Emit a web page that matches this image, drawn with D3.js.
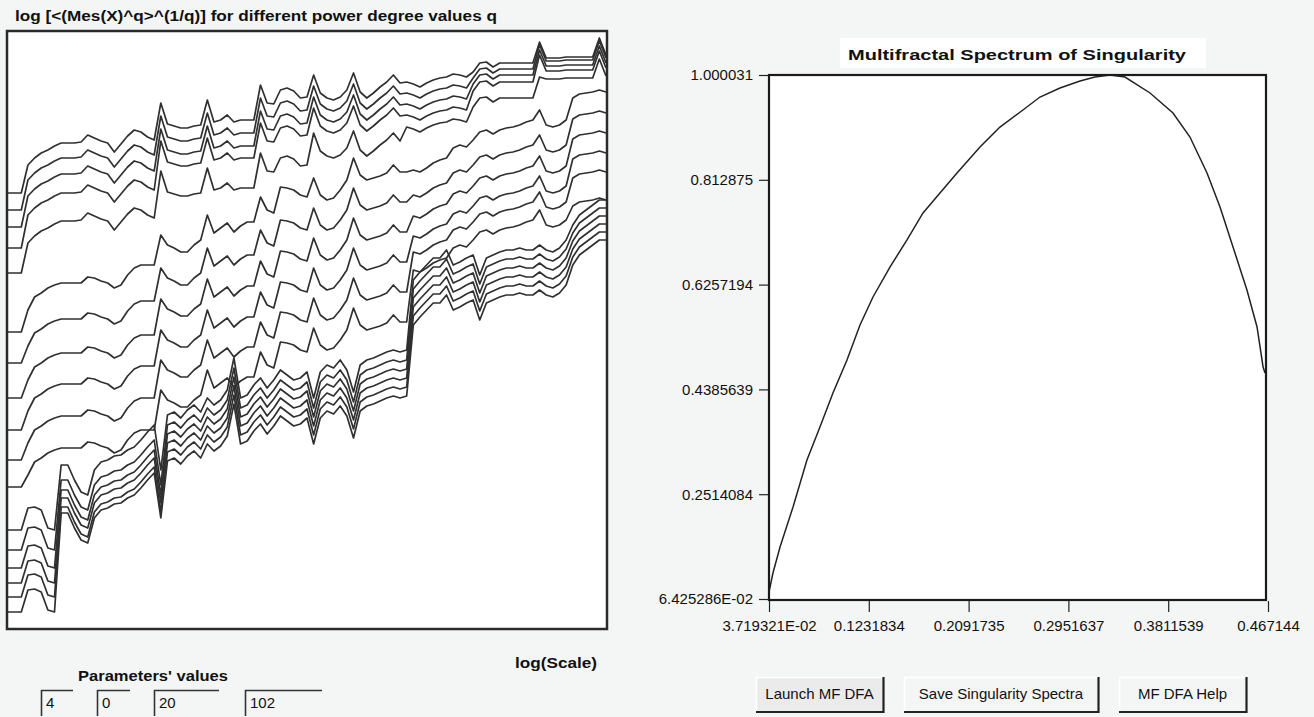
<!DOCTYPE html>
<meta charset="utf-8">
<body style="margin:0;background:#f4f6f6">
<style>
  .qline { fill: none; stroke: #303030; stroke-width: 1.7px; stroke-linejoin: round; }
  .spec { fill: none; stroke: #222; stroke-width: 1.5px; }
  .lbl { font-family: "Liberation Sans", Arial, sans-serif; fill: #111; }
  .axis text { font-family: "Liberation Sans", Arial, sans-serif; font-size: 15px; fill: #111; }
  .axis line { stroke: #222; stroke-width: 1.2px; }
  .axis path { display: none; }
</style>
<script src="https://d3js.org/d3.v7.min.js"></script>
<script>
// left chart: log measure vs log(scale), 91 scales, values in arbitrary log units
// group profiles, read off the top line of each bundle
var upperProfile = [4.36,4.36,4.36,4.64,4.71,4.76,4.79,4.83,4.86,4.86,4.86,4.87,4.94,4.91,4.88,4.86,4.77,4.85,4.93,4.99,
  4.97,4.92,4.89,5.26,5.05,5.03,5.01,5.01,5.03,5.04,5.29,5.07,5.09,5.14,5.07,5.09,5.09,5.09,5.44,5.26,
  5.25,5.39,5.41,5.38,5.31,5.32,5.54,5.36,5.31,5.29,5.32,5.39,5.56,5.37,5.31,5.36,5.42,5.47,5.54,5.46,
  5.47,5.45,5.42,5.46,5.49,5.51,5.52,5.55,5.54,5.52,5.57,5.66,5.67,5.62,5.66,5.66,5.66,5.66,5.66,5.66,
  5.87,5.71,5.71,5.71,5.72,5.72,5.72,5.72,5.72,5.91,5.74];
var middleProfile = [2.97,2.97,2.97,3.19,3.32,3.36,3.41,3.44,3.46,3.46,3.46,3.46,3.52,3.51,3.48,3.46,3.41,3.44,3.54,3.61,
  3.64,3.64,3.64,3.94,3.84,3.81,3.77,3.77,3.84,3.89,4.14,3.96,4.01,4.06,3.97,4.03,4.07,4.07,4.32,4.19,
  4.16,4.42,4.41,4.39,4.34,4.32,4.51,4.34,4.29,4.31,4.39,4.49,4.71,4.54,4.49,4.51,4.53,4.56,4.64,4.57,
  4.57,4.59,4.57,4.61,4.66,4.69,4.71,4.81,4.84,4.82,4.89,4.97,4.99,4.95,4.99,5.01,5.02,5.04,5.07,5.09,
  5.19,5.04,5.02,5.04,5.09,5.31,5.35,5.36,5.37,5.39,5.37];
var lowerProfile = [0.99,0.99,0.99,1.21,1.22,1.19,1.01,0.99,1.64,1.64,1.49,1.37,1.34,1.59,1.67,1.69,1.73,1.74,1.79,1.82,
  1.89,1.97,2.04,1.59,2.14,2.17,2.11,2.19,2.24,2.17,2.31,2.24,2.29,2.39,2.71,2.31,2.34,2.44,2.51,2.41,
  2.49,2.59,2.54,2.49,2.51,2.57,2.31,2.57,2.64,2.61,2.69,2.59,2.37,2.64,2.69,2.71,2.74,2.77,2.79,2.77,
  2.79,3.49,3.57,3.64,3.71,3.71,3.79,3.64,3.67,3.71,3.74,3.54,3.71,3.74,3.77,3.79,3.79,3.81,3.79,3.79,
  3.84,3.79,3.77,3.81,3.89,4.04,4.14,4.19,4.24,4.29,4.29];

// vertical shift of each line from its bundle profile: [from scale index, shift]
var upperShifts = [
  [[0, 0]],
  [[0,-0.17],[3,-0.15],[23,-0.13],[46,-0.11],[70,-0.06],[80,-0.03]],
  [[0,-0.34],[3,-0.31],[23,-0.26],[46,-0.22],[70,-0.12],[80,-0.08]],
  [[0,-0.55],[3,-0.50],[23,-0.38],[46,-0.33],[70,-0.19],[80,-0.13]],
  [[0,-0.80],[3,-0.78],[23,-0.68],[46,-0.58],[60,-0.45],[70,-0.35],[81,-0.21]]
];
var middleShifts = [
  [[0, 0]],
  [[0,-0.31],[3,-0.36],[23,-0.33],[46,-0.30],[61,-0.25],[85,-0.21]],
  [[0,-0.66],[3,-0.70],[23,-0.64],[46,-0.60],[61,-0.46],[85,-0.41]],
  [[0,-0.98],[3,-1.01],[23,-0.95],[46,-0.90],[61,-0.66],[85,-0.61]],
  [[0,-1.28],[3,-1.33],[23,-1.25],[46,-1.20],[61,-0.82],[85,-0.80]],
  [[0,-1.55],[3,-1.65],[23,-1.55],[46,-1.50],[61,-1.00],[85,-1.08]]
];
var lowerShifts = [
  [[0, 0]],
  [[0,-0.20],[8,-0.15],[24,-0.10],[61,-0.09],[85,-0.08]],
  [[0,-0.38],[8,-0.25],[24,-0.19],[61,-0.18],[85,-0.16]],
  [[0,-0.53],[8,-0.33],[24,-0.28],[61,-0.27],[85,-0.24]],
  [[0,-0.67],[8,-0.42],[24,-0.37],[61,-0.36],[85,-0.32]],
  [[0,-0.82],[8,-0.48],[24,-0.46],[61,-0.45],[85,-0.40]]
];

// right chart: multifractal spectrum f(alpha)
var alphaValues = [0.0372,0.0406,0.0467,0.0579,0.0699,0.0811,0.0923,0.1044,0.1156,0.1268,0.1414,0.1561,0.1699,0.1845,
  0.1992,0.2190,0.2362,0.2560,0.2707,0.2879,0.3052,0.3181,0.3310,0.3439,0.3655,0.3853,0.3999,0.4146,0.4258,
  0.4370,0.4490,0.4577,0.4629,0.4646];
var fValues = [0.0768,0.1107,0.1571,0.2286,0.3125,0.3714,0.4321,0.4911,0.5536,0.6036,0.6571,0.7054,0.7536,0.7893,
  0.8250,0.8714,0.9071,0.9375,0.9607,0.9768,0.9893,0.9964,1.0000,0.9964,0.9679,0.9322,0.8893,0.8250,0.7643,
  0.6929,0.6161,0.5500,0.4786,0.4680];
var yTickValues = [1.000031, 0.812875, 0.6257194, 0.4385639, 0.2514084, 0.06425286];
var yTickLabels = ["1.000031", "0.812875", "0.6257194", "0.4385639", "0.2514084", "6.425286E-02"];
var xTickValues = [0.03719321, 0.1231834, 0.2091735, 0.2951637, 0.3811539, 0.467144];
var xTickLabels = ["3.719321E-02", "0.1231834", "0.2091735", "0.2951637", "0.3811539", "0.467144"];
var paramValues = ["4", "0", "20", "102"];
var buttonLabels = ["Launch MF DFA", "Save Singularity Spectra", "MF DFA Help"];

var svg = d3.select("body").append("svg")
    .attr("width", 1314).attr("height", 717)
    .style("display", "block");

// ---------- left panel ----------
var L = {x0: 7, y0: 31, x1: 607, y1: 629};
var x = d3.scaleLinear().domain([0, 90]).range([L.x0 + 1, L.x1 - 1]);
var y = d3.scaleLinear().domain([0, 5.98]).range([L.y1, L.y0]);

svg.append("rect")
    .attr("x", L.x0).attr("y", L.y0)
    .attr("width", L.x1 - L.x0).attr("height", L.y1 - L.y0)
    .attr("fill", "#fff");

svg.append("clipPath").attr("id", "leftclip")
  .append("rect")
    .attr("x", L.x0).attr("y", L.y0)
    .attr("width", L.x1 - L.x0).attr("height", L.y1 - L.y0);

function buildLine(profile, steps) {
    return profile.map(function(v, i) {
        var s = 0;
        steps.forEach(function(st) { if (i >= st[0]) s = st[1]; });
        return [i, v + s];
    });
}
var allLines = [];
upperShifts.forEach(function(s) { allLines.push(buildLine(upperProfile, s)); });
middleShifts.forEach(function(s) { allLines.push(buildLine(middleProfile, s)); });
lowerShifts.forEach(function(s) { allLines.push(buildLine(lowerProfile, s)); });

var valueline = d3.line()
    .x(function(d) { return x(d[0]); })
    .y(function(d) { return y(d[1]); });

svg.append("g").attr("clip-path", "url(#leftclip)")
  .selectAll("path").data(allLines).enter().append("path")
    .attr("class", "qline")
    .attr("d", valueline);

svg.append("rect")
    .attr("x", L.x0).attr("y", L.y0)
    .attr("width", L.x1 - L.x0).attr("height", L.y1 - L.y0)
    .attr("fill", "none").attr("stroke", "#2a2a2a").attr("stroke-width", 2.5);

svg.append("text").attr("class", "lbl")
    .attr("x", 15).attr("y", 21)
    .attr("font-size", 14).attr("font-weight", "bold")
    .attr("textLength", 482).attr("lengthAdjust", "spacingAndGlyphs")
    .text("log [<(Mes(X)^q>^(1/q)] for different power degree values q");

svg.append("text").attr("class", "lbl")
    .attr("x", 597).attr("y", 668).attr("text-anchor", "end")
    .attr("font-size", 15).attr("font-weight", "bold")
    .attr("textLength", 82).attr("lengthAdjust", "spacingAndGlyphs")
    .text("log(Scale)");

svg.append("text").attr("class", "lbl")
    .attr("x", 78).attr("y", 681)
    .attr("font-size", 15).attr("font-weight", "bold")
    .attr("textLength", 150).attr("lengthAdjust", "spacingAndGlyphs")
    .text("Parameters' values");

var boxX = [41, 97, 154, 245], boxW = [32, 33, 65, 77];
paramValues.forEach(function(p, i) {
    var g = svg.append("g").attr("transform", "translate(" + boxX[i] + ",690)");
    g.append("path").attr("d", "M0.5,26V0.5H" + boxW[i])
        .attr("fill", "none").attr("stroke", "#333").attr("stroke-width", 1.6);
    g.append("text").attr("class", "lbl")
        .attr("x", 5).attr("y", 18).attr("font-size", 15)
        .text(p);
});

// ---------- right panel ----------
var R = {x0: 769, y0: 75, x1: 1266, y1: 600};
var xs = d3.scaleLinear().domain([0.03719321, 0.467144]).range([769, 1268]);
var ys = d3.scaleLinear().domain([0.06425286, 1.000031]).range([599, 75]);

svg.append("rect")
    .attr("x", 840).attr("y", 38).attr("width", 366).attr("height", 30)
    .attr("fill", "#fff");
svg.append("text").attr("class", "lbl")
    .attr("x", 1017).attr("y", 60).attr("text-anchor", "middle")
    .attr("font-size", 15.5).attr("font-weight", "bold")
    .attr("textLength", 338).attr("lengthAdjust", "spacingAndGlyphs")
    .text("Multifractal Spectrum of Singularity");

svg.append("rect")
    .attr("x", R.x0).attr("y", R.y0)
    .attr("width", R.x1 - R.x0).attr("height", R.y1 - R.y0)
    .attr("fill", "#fff");

var spec = d3.line()
    .x(function(d, i) { return xs(alphaValues[i]); })
    .y(function(d) { return ys(d); });
svg.append("path").datum(fValues)
    .attr("class", "spec")
    .attr("d", spec);

svg.append("rect")
    .attr("x", R.x0).attr("y", R.y0)
    .attr("width", R.x1 - R.x0).attr("height", R.y1 - R.y0)
    .attr("fill", "none").attr("stroke", "#1a1a1a").attr("stroke-width", 2.2);

svg.append("g").attr("class", "axis")
    .attr("transform", "translate(" + (R.x0 - 1) + ",0)")
    .call(d3.axisLeft(ys).tickValues(yTickValues)
        .tickFormat(function(d, i) { return yTickLabels[i]; })
        .tickSize(9).tickPadding(6));

svg.append("g").attr("class", "axis")
    .attr("transform", "translate(0," + (R.y1 + 1) + ")")
    .call(d3.axisBottom(xs).tickValues(xTickValues)
        .tickFormat(function(d, i) { return xTickLabels[i]; })
        .tickSize(11).tickPadding(8));

// buttons
var btnX = [756, 904, 1119], btnW = [127, 194, 127];
buttonLabels.forEach(function(b, i) {
    var g = svg.append("g").attr("transform", "translate(" + btnX[i] + ",677)");
    g.append("rect").attr("width", btnW[i]).attr("height", 34)
        .attr("fill", i === 0 ? "#ebebeb" : "#f4f6f6");
    g.append("path").attr("d", "M0.5,34V0.5H" + btnW[i])
        .attr("fill", "none").attr("stroke", "#fff").attr("stroke-width", 1.5);
    g.append("path").attr("d", "M0," + 35 + "H" + (btnW[i] + 0.5) + "V0")
        .attr("fill", "none").attr("stroke", "#222").attr("stroke-width", 2.2);
    g.append("text").attr("class", "lbl")
        .attr("x", btnW[i] / 2).attr("y", 22).attr("text-anchor", "middle")
        .attr("font-size", 15)
        .text(b);
});
</script>
